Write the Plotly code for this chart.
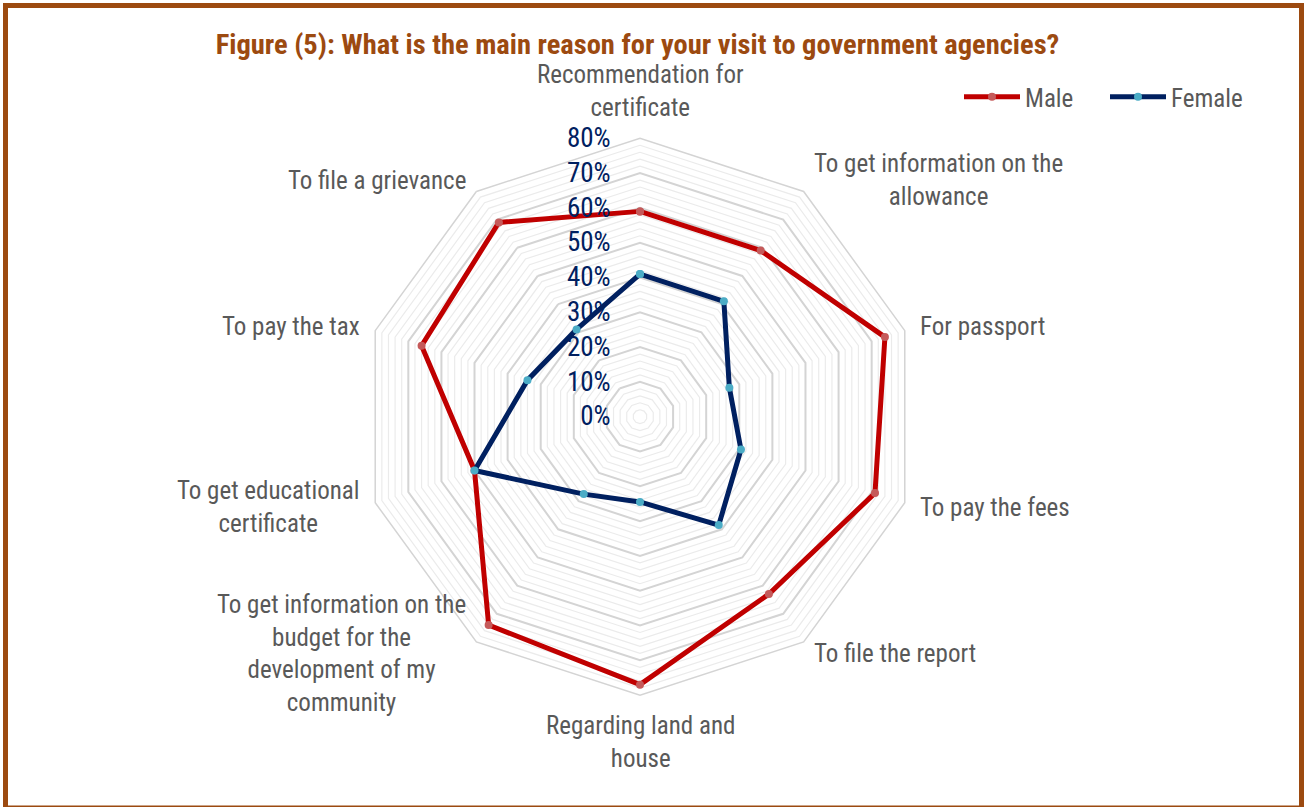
import numpy as np
import plotly.graph_objects as go

# Survey categories (clockwise from the top) and share of respondents by gender
categories = [
    "Recommendation for certificate",
    "To get information on the allowance",
    "For passport",
    "To pay the fees",
    "To file the report",
    "Regarding land and house",
    "To get information on the budget for the development of my community",
    "To get educational certificate",
    "To pay the tax",
    "To file a grievance",
]
category_labels = [
    "Recommendation for<br>certificate",
    "To get information on the<br>allowance",
    "For passport",
    "To pay the fees",
    "To file the report",
    "Regarding land and<br>house",
    "To get information on the<br>budget for the<br>development of my<br>community",
    "To get educational<br>certificate",
    "To pay the tax",
    "To file a grievance",
]
male = [0.59, 0.59, 0.74, 0.71, 0.63, 0.77, 0.74, 0.50, 0.66, 0.69]
female = [0.41, 0.41, 0.27, 0.305, 0.385, 0.245, 0.275, 0.50, 0.34, 0.31]

major_ticks = [0.0, 0.1, 0.2, 0.3, 0.4, 0.5, 0.6, 0.7, 0.8]
major_tick_text = ["0%", "10%", "20%", "30%", "40%", "50%", "60%", "70%", "80%"]
minor_levels = [round(v * 0.02, 2) for v in range(1, 40) if v % 5 != 0]

W, H = 1307, 807
NARROW = "Liberation Sans Narrow, Arial Narrow, Roboto Condensed, sans-serif"
BROWN = "#9C4A10"
GREY_TEXT = "#595959"
NAVY = "#002060"
PAD = "\u00a0" * 4  # keeps radial labels clear of the axis

# polar area (pixels) -> paper fractions
cx_px, cy_px, R_px = 640.0, 416.7, 278.4
dom_x = [(cx_px - R_px) / W, (cx_px + R_px) / W]
dom_y = [1 - (cy_px + R_px) / H, 1 - (cy_px - R_px) / H]

theta_closed = categories + [categories[0]]

fig = go.Figure()

# light minor rings every 2%
for lvl in minor_levels:
    fig.add_trace(go.Scatterpolar(
        r=[lvl] * len(theta_closed), theta=theta_closed, mode="lines",
        line=dict(color="#EBEBEB", width=1.2), hoverinfo="skip", showlegend=False,
    ))

fig.add_trace(go.Scatterpolar(
    r=male + [male[0]], theta=theta_closed, name="Male", mode="lines+markers",
    line=dict(color="#C00000", width=5),
    marker=dict(color="#C55A5A", size=8),
))
fig.add_trace(go.Scatterpolar(
    r=female + [female[0]], theta=theta_closed, name="Female", mode="lines+markers",
    line=dict(color="#002060", width=5),
    marker=dict(color="#4BACC6", size=8),
))

# category labels placed just outside each vertex
annotations = []
n = len(categories)
for i, lab in enumerate(category_labels):
    ang = np.deg2rad(360.0 * i / n)
    s, c = np.sin(ang), np.cos(ang)
    dist = R_px + 14
    px = cx_px + dist * s
    py = cy_px - dist * c
    if abs(s) < 1e-6:
        xanchor = "center"
        yanchor = "bottom" if c > 0 else "top"
    else:
        xanchor = "left" if s > 0 else "right"
        yanchor = "middle"
    annotations.append(dict(
        x=px / W, y=1 - py / H, xref="paper", yref="paper", text=lab,
        showarrow=False, xanchor=xanchor, yanchor=yanchor, align="center",
        font=dict(family=NARROW, size=25, color=GREY_TEXT),
    ))

fig.update_layout(
    width=W, height=H,
    margin=dict(l=0, r=0, t=0, b=0),
    paper_bgcolor="white", plot_bgcolor="white",
    title=dict(
        text="<b>Figure (5): What is the main reason for your visit to government agencies?</b>",
        x=637.5 / W, xanchor="center", y=1 - 44 / H, yanchor="middle",
        font=dict(family=NARROW, size=28.5, color=BROWN),
    ),
    polar=dict(
        domain=dict(x=dom_x, y=dom_y),
        gridshape="linear",
        bgcolor="white",
        radialaxis=dict(
            range=[0, 0.8], tickvals=major_ticks,
            ticktext=[t + PAD for t in major_tick_text],
            angle=90, tickangle=90, side="counterclockwise",
            showline=False, ticks="", gridcolor="#D4D4D4", gridwidth=1.5,
            tickfont=dict(family=NARROW, size=27, color=NAVY),
        ),
        angularaxis=dict(
            direction="clockwise", rotation=90, showgrid=False,
            showticklabels=False, ticks="", showline=True,
            linecolor="#D4D4D4", linewidth=1.5,
        ),
    ),
    legend=dict(
        orientation="h", x=1251 / W, xanchor="right", y=1 - 97 / H, yanchor="middle",
        font=dict(family=NARROW, size=25, color=GREY_TEXT),
        itemwidth=56, entrywidth=75,
        bgcolor="rgba(0,0,0,0)",
    ),
    annotations=annotations,
    shapes=[dict(
        type="rect", xref="paper", yref="paper",
        x0=5.5 / W, x1=1 - 5.5 / W, y0=-1.0 / H, y1=1 - 5.5 / H,
        line=dict(color=BROWN, width=5), fillcolor="rgba(0,0,0,0)",
    )],
)

fig.write_html("out.html")
